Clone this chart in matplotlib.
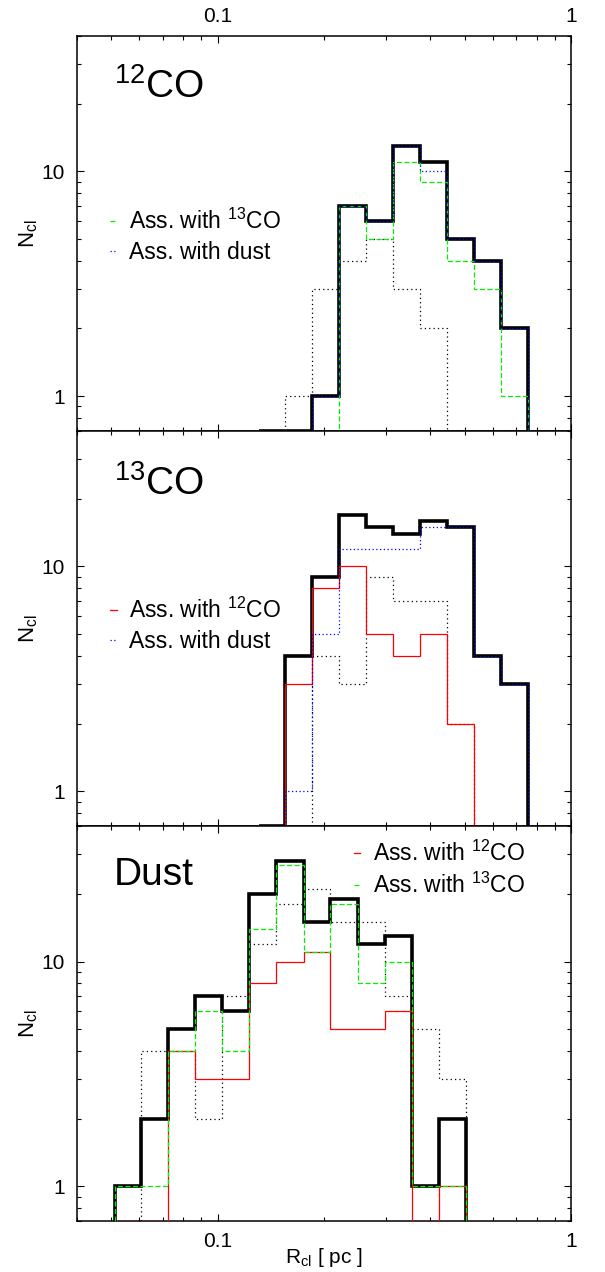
import numpy as np
import matplotlib
matplotlib.use("Agg")
import matplotlib.pyplot as plt
from matplotlib.ticker import FixedLocator, FixedFormatter, LogLocator, NullFormatter

plt.rcParams['font.family'] = ['Liberation Sans', 'DejaVu Sans']
plt.rcParams['mathtext.fontset'] = 'custom'
plt.rcParams['mathtext.rm'] = 'Liberation Sans'
plt.rcParams['mathtext.it'] = 'Liberation Sans'

# -----------------------------
# Data (bin edges in pc, clump counts per bin)
# -----------------------------
edges_co = [0.1307, 0.1549, 0.1845, 0.2203, 0.2629, 0.3131, 0.3736,
            0.4449, 0.5310, 0.6324, 0.7548]
edges_dust = [0.0512, 0.0607, 0.0723, 0.0861, 0.1028, 0.1227, 0.1462,
              0.1750, 0.2084, 0.2489, 0.2972, 0.3548, 0.4227, 0.5041]

# 12CO clumps
co12_all = [0, 0, 1, 7, 6, 13, 11, 5, 4, 2]
co12_other = [0, 1, 3, 4, 5, 3, 2, 0, 0, 0]
co12_with13co = [0, 0, 0, 7, 5, 11, 9, 4, 3, 1]
co12_withdust = [0, 0, 1, 7, 6, 13, 10, 5, 4, 2]

# 13CO clumps
co13_all = [0, 4, 9, 17, 15, 14, 16, 15, 4, 3]
co13_other = [0, 0, 4, 3, 9, 7, 7, 2, 0, 0]
co13_with12co = [0, 3, 8, 10, 5, 4, 5, 2, 0, 0]
co13_withdust = [0, 1, 5, 12, 12, 12, 15, 15, 4, 3]

# dust clumps
dust_all = [1, 2, 5, 7, 6, 20, 28, 15, 19, 12, 13, 1, 2]
dust_other = [0, 4, 4, 2, 7, 12, 18, 21, 15, 15, 7, 5, 3]
dust_with12co = [0, 0, 4, 3, 3, 8, 10, 11, 5, 5, 6, 0, 1]
dust_with13co = [1, 1, 4, 6, 4, 14, 27, 11, 18, 8, 10, 1, 1]

YMIN, YMAX = 0.7, 40
XMIN, XMAX = 0.04, 1.0

GREEN = '#00ee00'
BLUE = '#0000ff'
RED = '#ff0000'

fig = plt.figure(figsize=(6.05, 12.72), dpi=100)
left, width, height = 0.1273, 0.8165, 0.3105
bottoms = [0.6612, 0.3506, 0.0400]
axes = [fig.add_axes([left, b, width, height]) for b in bottoms]


def hist(ax, edges, counts, **kw):
    vals = np.array(counts, dtype=float)
    vals[vals <= 0] = YMIN
    ax.stairs(vals, edges, baseline=YMIN, fill=False, **kw)


def style(ax):
    ax.set_xscale('log')
    ax.set_yscale('log')
    ax.set_xlim(XMIN, XMAX)
    ax.set_ylim(YMIN, YMAX)
    ax.xaxis.set_major_locator(FixedLocator([0.1, 1.0]))
    ax.xaxis.set_major_formatter(FixedFormatter(['0.1', '1']))
    ax.xaxis.set_minor_locator(LogLocator(base=10, subs=np.arange(2, 10), numticks=20))
    ax.xaxis.set_minor_formatter(NullFormatter())
    ax.yaxis.set_major_locator(FixedLocator([1, 10]))
    ax.yaxis.set_major_formatter(FixedFormatter(['1', '10']))
    ax.yaxis.set_minor_locator(LogLocator(base=10, subs=np.arange(2, 10), numticks=20))
    ax.yaxis.set_minor_formatter(NullFormatter())
    ax.tick_params(which='both', direction='in', top=True, right=True,
                   width=0.8, labelsize=15, bottom=True, labelbottom=False)
    ax.tick_params(which='major', length=5)
    ax.tick_params(which='minor', length=2.6)
    ax.tick_params(axis='y', pad=9)
    for s in ax.spines.values():
        s.set_linewidth(1.1)
    ax.set_ylabel(r'N$_{\rm cl}$', fontsize=16, labelpad=1)


thick = dict(color='black', lw=2.6, zorder=2)
dotted_k = dict(color='black', lw=0.9, linestyle=(0, (1, 2.5)), zorder=3)
dashed_g = dict(color=GREEN, lw=0.9, linestyle=(0, (4, 2)), zorder=4)
dotted_b = dict(color=BLUE, lw=0.9, linestyle=(0, (1, 2)), zorder=5)
solid_r = dict(color=RED, lw=0.9, zorder=3)

leg_kw = dict(loc='upper left', frameon=False, fontsize=16.5,
              handlelength=0.3, handletextpad=0.55, labelspacing=0.3)

# panel 1: 12CO
ax = axes[0]
style(ax)
hist(ax, edges_co, co12_all, **thick)
hist(ax, edges_co, co12_other, **dotted_k)
hist(ax, edges_co, co12_with13co, label=r'Ass. with $^{13}$CO', **dashed_g)
hist(ax, edges_co, co12_withdust, label='Ass. with dust', **dotted_b)
ax.tick_params(axis='x', labeltop=True, pad=7)
ax.text(0.075, 0.843, r'$^{12}$CO', transform=ax.transAxes, fontsize=28)
ax.legend(bbox_to_anchor=(0.025, 0.615), **leg_kw)

# panel 2: 13CO
ax = axes[1]
style(ax)
hist(ax, edges_co, co13_all, **thick)
hist(ax, edges_co, co13_other, **dotted_k)
hist(ax, edges_co, co13_with12co, label=r'Ass. with $^{12}$CO', **solid_r)
hist(ax, edges_co, co13_withdust, label='Ass. with dust', **dotted_b)
ax.text(0.075, 0.838, r'$^{13}$CO', transform=ax.transAxes, fontsize=28)
ax.legend(bbox_to_anchor=(0.025, 0.63), **leg_kw)

# panel 3: dust
ax = axes[2]
style(ax)
hist(ax, edges_dust, dust_all, **thick)
hist(ax, edges_dust, dust_other, **dotted_k)
hist(ax, edges_dust, dust_with12co, label=r'Ass. with $^{12}$CO', **solid_r)
hist(ax, edges_dust, dust_with13co, label=r'Ass. with $^{13}$CO', **dashed_g)
ax.tick_params(axis='x', labelbottom=True, pad=8)
ax.text(0.075, 0.85, 'Dust', transform=ax.transAxes, fontsize=28)
ax.legend(bbox_to_anchor=(0.518, 1.015), **leg_kw)
ax.set_xlabel(r'R$_{\rm cl}$ [ pc ]', fontsize=15, labelpad=-4)

fig.savefig('out.png', dpi=100)
